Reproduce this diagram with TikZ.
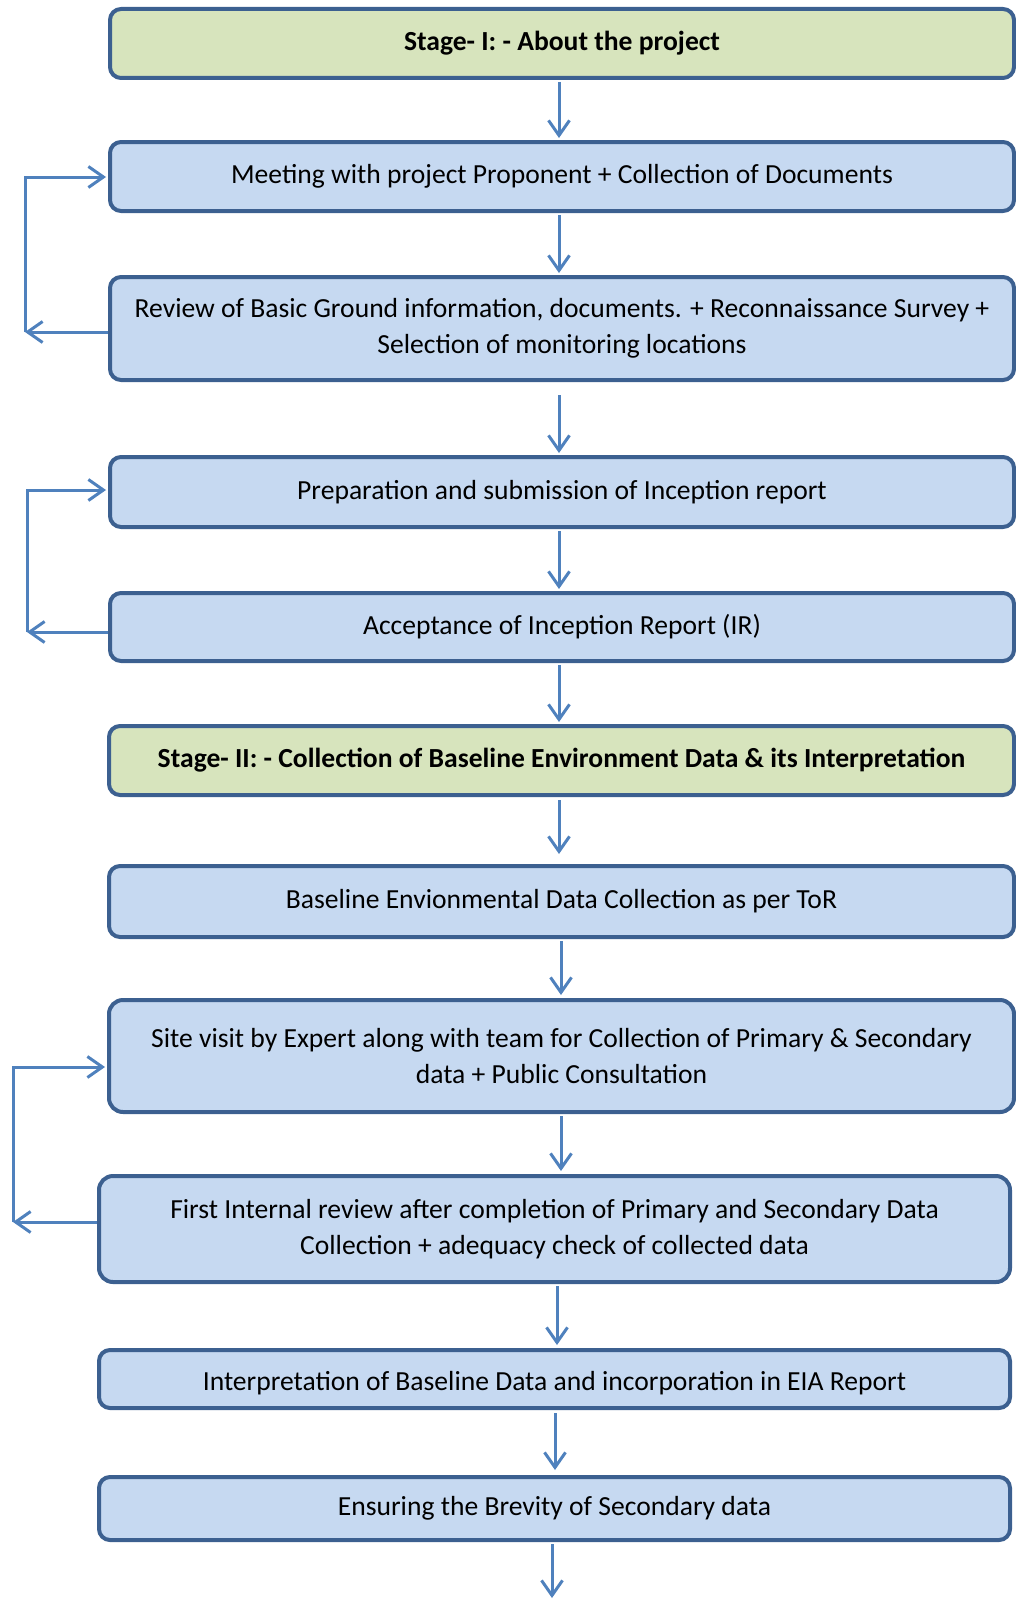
\documentclass[tikz,border=0pt]{standalone}
\usepackage{fontspec}
\setmainfont{Carlito}
\usetikzlibrary{arrows.meta}
\definecolor{edgeblue}{HTML}{3C6090}
\definecolor{bluefill}{HTML}{C6D9F1}
\definecolor{greenfill}{HTML}{D7E4BD}
\definecolor{flowblue}{HTML}{4F81BD}
\begin{document}
\begin{tikzpicture}[x=1pt,y=-1pt,
  stepbox/.style={draw=edgeblue, line width=4pt, rounded corners=11pt,
    fill=bluefill, align=center, inner sep=0pt, text=black,
    font=\fontsize{27.6}{36}\selectfont},
  stagebox/.style={stepbox, fill=greenfill,
    font=\bfseries\fontsize{27.6}{36}\selectfont},
  flowarrow/.style={draw=flowblue, line width=3pt,
    -{Straight Barb[length=15pt,width=21pt,line width=3pt]}},
  ]
\useasboundingbox (0,0) rectangle (1016,1600);

% ---- boxes ----
\node[stagebox, minimum width=904, minimum height=69] (b1) at (562,43.5)
  {Stage- I: - About the project};
\node[stepbox, minimum width=904, minimum height=69] (b2) at (562,176.5)
  {Meeting with project Proponent + Collection of Documents};
\node[stepbox, minimum width=904, minimum height=103] (b3) at (562,328.5)
  {Review of Basic Ground information, documents. + Reconnaissance Survey +\\Selection of monitoring locations};
\node[stepbox, minimum width=904, minimum height=70] (b4) at (562,492)
  {Preparation and submission of Inception report};
\node[stepbox, minimum width=904, minimum height=68] (b5) at (562,627)
  {Acceptance of Inception Report (IR)};
\node[stagebox, minimum width=905, minimum height=69] (b6) at (561.5,760.5)
  {Stage- II: - Collection of Baseline Environment Data \& its Interpretation};
\node[stepbox, minimum width=905, minimum height=71] (b7) at (561.5,901.5)
  {Baseline Envionmental Data Collection as per ToR};
\node[stepbox, minimum width=905, minimum height=112, rounded corners=14pt] (b8) at (561.5,1056)
  {Site visit by Expert along with team for Collection of Primary \& Secondary\\data + Public Consultation};
\node[stepbox, minimum width=911, minimum height=106, rounded corners=14pt] (b9) at (554.5,1229)
  {First Internal review after completion of Primary and Secondary Data\\Collection + adequacy check of collected data};
\node[stepbox, minimum width=911, minimum height=58, text height=28pt, text depth=6pt] (b10) at (554.5,1379)
  {Interpretation of Baseline Data and incorporation in EIA Report};
\node[stepbox, minimum width=911, minimum height=63] (b11) at (554.5,1508.5)
  {Ensuring the Brevity of Secondary data};

% ---- vertical spine positions ----
\coordinate (sa) at (559,0);
\coordinate (sb) at (561,0);
\coordinate (sc) at (557,0);
\coordinate (sd) at (555,0);
\coordinate (fin) at (552,1598);

% ---- main flow ----
\draw[flowarrow, shorten <=2pt, shorten >=2pt] (sa |- b1.south) -- (sa |- b2.north);
\draw[flowarrow, shorten <=2pt, shorten >=2pt] (sa |- b2.south) -- (sa |- b3.north);
\draw[flowarrow, shorten <=13pt, shorten >=2pt] (sa |- b3.south) -- (sa |- b4.north);
\draw[flowarrow, shorten <=2pt, shorten >=2pt] (sa |- b4.south) -- (sa |- b5.north);
\draw[flowarrow, shorten <=2pt, shorten >=2pt] (sa |- b5.south) -- (sa |- b6.north);
\draw[flowarrow, shorten <=3pt, shorten >=10pt] (sa |- b6.south) -- (sa |- b7.north);
\draw[flowarrow, shorten <=2pt, shorten >=3pt] (sb |- b7.south) -- (sb |- b8.north);
\draw[flowarrow, shorten <=2pt, shorten >=3pt] (sb |- b8.south) -- (sb |- b9.north);
\draw[flowarrow, shorten <=2pt, shorten >=3pt] (sc |- b9.south) -- (sc |- b10.north);
\draw[flowarrow, shorten <=3pt, shorten >=5pt] (sd |- b10.south) -- (sd |- b11.north);
\draw[flowarrow, shorten <=2pt] (fin |- b11.south) -- (fin);

% ---- feedback loops on the left ----
\coordinate (l1top) at (25,177);
\coordinate (l1bot) at (25,332);
\draw[flowarrow] (b3.west |- l1bot) -- (l1bot);
\draw[flowarrow, shorten >=2pt] (l1bot) -- (l1top) -- (b2.west |- l1top);

\coordinate (l2top) at (27,490);
\coordinate (l2bot) at (27,632);
\draw[flowarrow] (b5.west |- l2bot) -- (l2bot);
\draw[flowarrow, shorten >=2pt] (l2bot) -- (l2top) -- (b4.west |- l2top);

\coordinate (l3top) at (13,1067);
\coordinate (l3bot) at (13,1222);
\draw[flowarrow] (b9.west |- l3bot) -- (l3bot);
\draw[flowarrow, shorten >=2pt] (l3bot) -- (l3top) -- (b8.west |- l3top);
\end{tikzpicture}
\end{document}
